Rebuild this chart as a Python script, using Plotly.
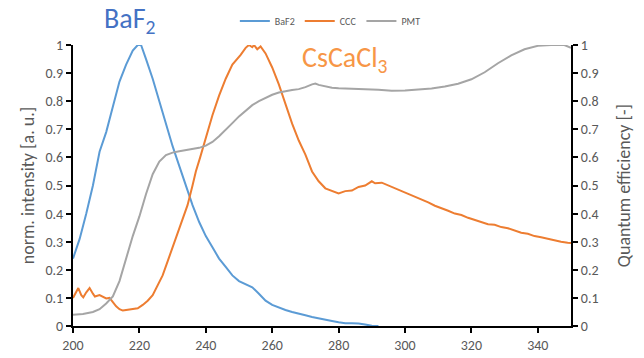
import plotly.graph_objects as go

# ---------------- data ----------------
baf2_x = [200, 202, 204, 206, 208, 210, 212, 214, 216, 218, 219.5, 220.5, 222, 224, 226, 228, 230,
          232, 234, 236, 238, 240, 242, 244, 246, 248, 250, 252, 254, 256, 258, 260, 262, 264,
          266, 268, 270, 272, 274, 276, 278, 280, 282, 284, 286, 288, 290, 292]
baf2_y = [0.24, 0.31, 0.40, 0.50, 0.62, 0.69, 0.78, 0.87, 0.93, 0.98, 1.0, 1.0, 0.95, 0.88, 0.80,
          0.72, 0.64, 0.57, 0.50, 0.43, 0.37, 0.32, 0.28, 0.24, 0.21, 0.18, 0.16, 0.148, 0.138,
          0.115, 0.09, 0.075, 0.065, 0.057, 0.05, 0.045, 0.038, 0.032, 0.028, 0.022, 0.018,
          0.013, 0.01, 0.01, 0.009, 0.005, 0.001, 0.0]

ccc_x = [200, 201, 201.6, 202.5, 203.1, 204, 205, 206, 206.6, 208, 209, 210, 211, 212, 213, 214,
         215, 216, 218, 219.5, 221, 222.5, 224, 225.5, 227, 228.5, 230, 231.5, 233, 234.5, 236,
         237, 238.3, 240, 242, 244, 246, 248, 249.5, 250.5, 252, 253, 254, 254.5, 255.5, 256.5,
         258, 260, 262, 264, 266, 268, 270, 272, 273, 274, 276, 278, 280, 282, 284, 286, 288,
         290, 291, 293, 295, 297, 299, 301, 303, 305, 307, 309, 311, 313, 315, 317, 319, 321,
         323, 325, 327, 329, 331, 333, 335, 337, 339, 341, 343, 345, 347, 349, 350]
ccc_y = [0.10, 0.125, 0.135, 0.11, 0.102, 0.12, 0.135, 0.115, 0.105, 0.11, 0.105, 0.098, 0.10,
         0.085, 0.07, 0.06, 0.055, 0.057, 0.06, 0.063, 0.075, 0.09, 0.11, 0.145, 0.18, 0.23,
         0.28, 0.33, 0.38, 0.43, 0.50, 0.55, 0.60, 0.67, 0.75, 0.82, 0.88, 0.93, 0.95, 0.965,
         0.99, 1.0, 0.992, 1.0, 0.985, 0.995, 0.97, 0.92, 0.86, 0.79, 0.72, 0.66, 0.61, 0.55,
         0.53, 0.515, 0.49, 0.48, 0.472, 0.48, 0.482, 0.495, 0.50, 0.515, 0.508, 0.51, 0.50,
         0.492, 0.48, 0.47, 0.462, 0.45, 0.44, 0.428, 0.42, 0.41, 0.40, 0.395, 0.385, 0.378,
         0.37, 0.362, 0.36, 0.352, 0.348, 0.34, 0.332, 0.328, 0.32, 0.316, 0.31, 0.305, 0.3,
         0.296, 0.295]

pmt_x = [200, 203, 206, 208, 210, 212, 214, 216, 218, 220, 222, 224, 226, 228, 230, 232, 234,
         236, 238, 240, 242, 244, 246, 248, 250, 252, 254, 256, 258, 260, 262, 264, 266, 268,
         270, 272, 273, 274, 276, 278, 280, 284, 288, 292, 296, 300, 304, 308, 312, 316, 320,
         324, 328, 332, 336, 340, 344, 348, 350]
pmt_y = [0.04, 0.043, 0.05, 0.06, 0.08, 0.105, 0.16, 0.24, 0.32, 0.39, 0.47, 0.54, 0.585, 0.608,
         0.617, 0.622, 0.626, 0.629, 0.634, 0.642, 0.655, 0.675, 0.697, 0.722, 0.746, 0.767,
         0.786, 0.80, 0.813, 0.823, 0.831, 0.836, 0.84, 0.843, 0.85, 0.86, 0.863, 0.858, 0.852,
         0.848, 0.846, 0.845, 0.843, 0.841, 0.837, 0.838, 0.842, 0.845, 0.852, 0.862, 0.878,
         0.903, 0.935, 0.963, 0.985, 0.997, 1.0, 1.0, 0.99]

x_ticks = [200, 220, 240, 260, 280, 300, 320, 340]
y_ticks = [0, 0.1, 0.2, 0.3, 0.4, 0.5, 0.6, 0.7, 0.8, 0.9, 1]
y_tick_labels = ["0", "0.1", "0.2", "0.3", "0.4", "0.5", "0.6", "0.7", "0.8", "0.9", "1"]

FONT = "Carlito, Calibri, Lato, sans-serif"
TXT = "#595959"

fig = go.Figure()
fig.add_trace(go.Scatter(x=baf2_x, y=baf2_y, name="BaF2", mode="lines",
                         line=dict(color="#5B9BD5", width=2)))
fig.add_trace(go.Scatter(x=ccc_x, y=ccc_y, name="CCC", mode="lines",
                         line=dict(color="#ED7D31", width=2)))
fig.add_trace(go.Scatter(x=pmt_x, y=pmt_y, name="PMT", mode="lines", yaxis="y2",
                         line=dict(color="#A5A5A5", width=2)))

axis_common = dict(showgrid=False, zeroline=False, showline=True, linecolor="black", linewidth=2,
                   ticks="outside", tickcolor="black", tickwidth=2, ticklen=5, automargin=False,
                   tickfont=dict(family=FONT, size=14, color=TXT))

fig.update_layout(
    width=644, height=358,
    margin=dict(l=73, r=73, t=45, b=32, autoexpand=False),
    paper_bgcolor="white", plot_bgcolor="white",
    font=dict(family=FONT, color=TXT),
    xaxis=dict(range=[200, 350], tickvals=x_ticks, **axis_common),
    yaxis=dict(range=[0, 1], tickvals=y_ticks, ticktext=y_tick_labels,
               title=dict(text="norm. intensity [a. u.]", font=dict(family=FONT, size=18, color=TXT),
                          standoff=6),
               **axis_common),
    yaxis2=dict(range=[0, 1], tickvals=y_ticks, ticktext=y_tick_labels, overlaying="y", side="right",
                title=dict(text="Quantum efficiency [-]", font=dict(family=FONT, size=18, color=TXT),
                           standoff=20),
                **axis_common),
    legend=dict(orientation="h", x=0.325, xanchor="left", y=1.085, yanchor="middle",
                font=dict(family=FONT, size=10, color=TXT), itemwidth=30,
                bgcolor="rgba(0,0,0,0)"),
    showlegend=True,
    annotations=[
        dict(text="BaF<sub>2</sub>", x=217.2, y=1.09, xref="x", yref="paper", showarrow=False,
             font=dict(family=FONT, size=28, color="#4472C4"), xanchor="center", yanchor="middle"),
        dict(text="CsCaCl<sub>3</sub>", x=281.9, y=0.95, xref="x", yref="paper", showarrow=False,
             font=dict(family=FONT, size=28, color="#F79646"), xanchor="center", yanchor="middle"),
    ],
)

fig.write_html("out.html")
